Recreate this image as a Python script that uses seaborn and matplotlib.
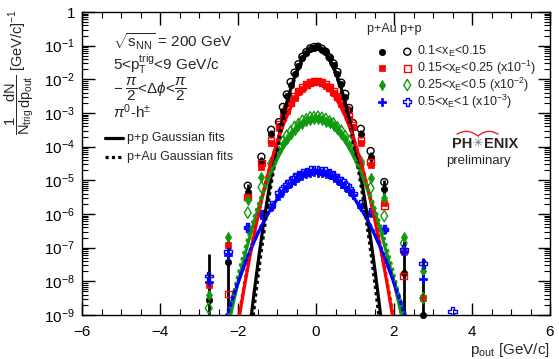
import numpy as np
import pandas as pd
import matplotlib
matplotlib.use("Agg")
import matplotlib.pyplot as plt
import seaborn as sns
from matplotlib.ticker import FixedLocator, MultipleLocator, NullFormatter, LogLocator

sns.set_theme(style="ticks")
plt.rcParams['font.family'] = ['Liberation Sans', 'DejaVu Sans']
plt.rcParams['mathtext.fontset'] = 'custom'
plt.rcParams['mathtext.rm'] = 'Liberation Sans'
plt.rcParams['mathtext.it'] = 'Liberation Sans:italic'
plt.rcParams['mathtext.bf'] = 'Liberation Sans:bold'

# ---------------- data (log10 of 1/Ntrig dN/dpout, as displayed incl. scale) -------------
x_fine = [-0.95, -0.85, -0.75, -0.65, -0.55, -0.45, -0.35, -0.25, -0.15, -0.05,
          0.05, 0.15, 0.25, 0.35, 0.45, 0.55, 0.65, 0.75, 0.85, 0.95]
x_coarse = [-2.75, -2.25, -1.75, -1.4, -1.15, 1.15, 1.4, 1.75, 2.25, 2.75]
x_extra = [3.5]

black_pp_fine = [-3.27, -2.82, -2.45, -2.08, -1.80, -1.55, -1.33, -1.19, -1.08, -1.04,
                 -1.03, -1.09, -1.18, -1.35, -1.53, -1.78, -2.10, -2.43, -2.85, -3.30]
black_pa_fine = [-3.38, -2.95, -2.50, -2.16, -1.83, -1.59, -1.36, -1.22, -1.11, -1.06,
                 -1.05, -1.12, -1.20, -1.38, -1.57, -1.85, -2.14, -2.52, -2.92, -3.42]
red_pp_fine = [-3.35, -3.12, -2.87, -2.68, -2.49, -2.35, -2.23, -2.16, -2.09, -2.06,
               -2.05, -2.10, -2.14, -2.25, -2.36, -2.51, -2.66, -2.89, -3.10, -3.38]
red_pa_fine = [-3.45, -3.16, -2.94, -2.71, -2.55, -2.38, -2.28, -2.17, -2.12, -2.09,
               -2.09, -2.11, -2.19, -2.26, -2.40, -2.53, -2.73, -2.92, -3.18, -3.43]
green_pp_fine = [-4.00, -3.85, -3.67, -3.55, -3.41, -3.33, -3.23, -3.19, -3.13, -3.12,
                 -3.11, -3.14, -3.18, -3.25, -3.31, -3.43, -3.53, -3.69, -3.83, -4.03]
green_pa_fine = [-4.14, -3.93, -3.78, -3.61, -3.50, -3.38, -3.32, -3.24, -3.21, -3.18,
                 -3.18, -3.20, -3.26, -3.30, -3.40, -3.49, -3.63, -3.76, -3.95, -4.12]
blue_pp_fine = [-5.37, -5.25, -5.11, -5.03, -4.92, -4.86, -4.78, -4.76, -4.71, -4.70,
                -4.69, -4.73, -4.74, -4.80, -4.84, -4.94, -5.01, -5.13, -5.23, -5.39]
blue_pa_fine = [-5.47, -5.31, -5.21, -5.08, -5.01, -4.91, -4.87, -4.80, -4.79, -4.76,
                -4.77, -4.77, -4.82, -4.85, -4.93, -4.99, -5.10, -5.19, -5.33, -5.45]

nan = np.nan
black_pp_coarse = [nan, nan, -5.16, -4.30, -3.50, -3.47, -4.13, -5.05, nan, nan]
black_pa_coarse = [-8.55, -7.42, -5.34, -4.45, -3.62, -3.62, -4.30, -5.25, -7.74, -9.00]
red_pp_coarse = [nan, -8.38, -5.50, -4.48, -3.80, -3.80, -4.45, -5.76, -7.84, nan]
red_pa_coarse = [-8.10, -6.92, -5.50, -4.60, -3.90, -3.90, -4.55, -5.67, -7.12, -8.50]
green_pp_coarse = [-8.80, nan, -5.96, -5.20, -4.50, -4.45, -5.23, -6.06, -6.87, -8.50]
green_pa_coarse = [-8.40, -6.67, -5.58, -4.90, -4.55, -4.50, -4.93, -5.52, -6.67, -7.70]
blue_pp_coarse = [-7.84, -7.12, -6.40, -6.00, -5.75, -5.72, -5.95, -6.45, -7.05, -7.48]
blue_pa_coarse = [-8.01, -7.22, -6.42, -6.03, -5.78, -5.78, -5.98, -6.47, -7.12, -7.93]
blue_pp_extra = [-8.90]

# error bars on black p+Au coarse points (log10 of upper / lower ends)
black_pa_err_hi = [-7.19, -6.70, -5.10, -4.30, -3.50, -3.50, -4.15, -5.00, -6.80, -7.30]
black_pa_err_lo = [-10.0, -10.0, -5.60, -4.60, -3.75, -3.75, -4.45, -5.50, -10.0, -10.0]

# Gaussian fit parameters (log10 amplitude, sigma)
fit_pp_amp = [-1.06, -2.08, -3.16, -4.74]
fit_pp_sigma = [0.274, 0.347, 0.422, 0.512]
fit_pa_amp = [-1.06, -2.10, -3.20, -4.76]
fit_pa_sigma = [0.266, 0.350, 0.434, 0.518]

colors = ["black", "#ff0000", "#109a10", "#0000ff"]
filled_markers = ["o", "s", "d", "P"]
legend_labels = [r"0.1<$\mathrm{x_E}$<0.15",
                 r"0.15<$\mathrm{x_E}$<0.25 (x10$^{-1}$)",
                 r"0.25<$\mathrm{x_E}$<0.5 (x10$^{-2}$)",
                 r"0.5<$\mathrm{x_E}$<1 (x10$^{-3}$)"]
y_tick_exp = [0, -1, -2, -3, -4, -5, -6, -7, -8, -9]
y_tick_labels = ["1"] + [r"$10^{%d}$" % e for e in y_tick_exp[1:]]

pp_series = [(black_pp_fine, black_pp_coarse), (red_pp_fine, red_pp_coarse),
             (green_pp_fine, green_pp_coarse), (blue_pp_fine, blue_pp_coarse)]
pa_series = [(black_pa_fine, black_pa_coarse), (red_pa_fine, red_pa_coarse),
             (green_pa_fine, green_pa_coarse), (blue_pa_fine, blue_pa_coarse)]

# ---------------- figure -------------
W, H = 559, 359
fig = plt.figure(figsize=(W / 100, H / 100), dpi=100)
fig.patch.set_facecolor("white")
ax = fig.add_axes([82 / W, 44 / H, 468 / W, 303 / H])
ax.set_facecolor("white")
ax.set_yscale("log")

sizes = {"o": 21, "s": 19, "d": 28, "P": 30}
open_scale = 1.2

for i in range(4):
    c = colors[i]
    m = filled_markers[i]
    # p+p open
    fine, coarse = pp_series[i]
    xs = list(x_fine) + list(x_coarse)
    ys = list(fine) + list(coarse)
    if i == 3:
        xs += list(x_extra)
        ys += list(blue_pp_extra)
    d = pd.DataFrame({"x": xs, "y": 10 ** np.array(ys, dtype=float)}).dropna()
    sns.scatterplot(data=d, x="x", y="y", ax=ax, marker=m, s=sizes[m] * open_scale,
                    facecolor="none", edgecolor=c, linewidth=1.0, zorder=3, legend=False)
    # p+Au filled
    fine, coarse = pa_series[i]
    d = pd.DataFrame({"x": list(x_fine) + list(x_coarse),
                      "y": 10 ** np.array(list(fine) + list(coarse), dtype=float)}).dropna()
    sns.scatterplot(data=d, x="x", y="y", ax=ax, marker=m, s=sizes[m],
                    color=c, edgecolor=c, linewidth=0.5, zorder=3, legend=False,
                    clip_on=False)

# error bars of black p+Au tail points
ax.vlines(x_coarse, 10 ** np.array(black_pa_err_lo), 10 ** np.array(black_pa_err_hi),
          color="black", linewidth=2.0, zorder=2.5)

# Gaussian fits
xg = np.linspace(-3.2, 3.2, 801)
for i in range(4):
    ypp = 10 ** fit_pp_amp[i] * np.exp(-xg ** 2 / (2 * fit_pp_sigma[i] ** 2))
    ypa = 10 ** fit_pa_amp[i] * np.exp(-xg ** 2 / (2 * fit_pa_sigma[i] ** 2))
    sns.lineplot(x=xg, y=ypp, ax=ax, color=colors[i], linewidth=2.3, zorder=4,
                 estimator=None, sort=False)
    sns.lineplot(x=xg, y=ypa, ax=ax, color=colors[i], linewidth=2.3, zorder=4.5,
                 estimator=None, sort=False, linestyle=(0, (1, 1)))

ax.set_xlim(-6, 6)
ax.set_ylim(1e-9, 1)
ax.set_xlabel("")
ax.set_ylabel("")

ax.xaxis.set_minor_locator(MultipleLocator(0.5))
ax.set_xticks([-6, -4, -2, 0, 2, 4, 6])
ax.set_xticklabels(["\u22126", "\u22124", "\u22122", "0", "2", "4", "6"])
ax.yaxis.set_major_locator(FixedLocator([10.0 ** e for e in y_tick_exp]))
ax.set_yticklabels(y_tick_labels)
ax.yaxis.set_minor_locator(LogLocator(base=10, subs=np.arange(2, 10), numticks=30))
ax.yaxis.set_minor_formatter(NullFormatter())
ax.tick_params(which="both", direction="in", top=True, right=True, colors="black",
               labelsize=11)
ax.tick_params(which="major", length=9, width=1.0)
ax.tick_params(which="minor", length=4.5, width=0.8)
ax.tick_params(axis="x", which="major", pad=7)
ax.tick_params(axis="y", which="major", pad=5)
for s in ax.spines.values():
    s.set_color("black")
    s.set_linewidth(1.0)

# ---- axis titles
fig.text(19 / W, 1 - 9 / H, r"$\dfrac{1}{\mathrm{N_{trig}}}\dfrac{\mathrm{dN}}{\mathrm{dp_{out}}}$ [GeV/c]$^{-1}$",
         rotation=90, ha="center", va="top", fontsize=10.5)
fig.text(550 / W, 1 - 350 / H, r"$\mathrm{p_{out}}$ [GeV/c]", ha="right", va="center",
         fontsize=11)

# ---- upper-left text block
tx = 0.066
ax.text(tx, 0.902, r"$\sqrt{\mathrm{s_{NN}}}$ = 200 GeV", transform=ax.transAxes,
        fontsize=11, va="center")
ax.text(tx, 0.828, r"5<$\mathrm{p_T^{trig}}$<9 GeV/c", transform=ax.transAxes,
        fontsize=11, va="center")
ax.text(tx, 0.745, r"$-\;\dfrac{\pi}{2}$<$\Delta\phi$<$\dfrac{\pi}{2}$",
        transform=ax.transAxes, fontsize=11, va="center")
ax.text(tx, 0.671, r"$\pi^{0}$-h$^{\pm}$", transform=ax.transAxes, fontsize=11,
        va="center")
ax.plot([0.049, 0.088], [0.583, 0.583], transform=ax.transAxes, color="black", lw=2.3)
ax.text(0.096, 0.583, "p+p Gaussian fits", transform=ax.transAxes, fontsize=9,
        va="center")
ax.plot([0.049, 0.088], [0.522, 0.522], transform=ax.transAxes, color="black", lw=2.3,
        linestyle=(0, (1, 1)))
ax.text(0.096, 0.522, "p+Au Gaussian fits", transform=ax.transAxes, fontsize=9,
        va="center")

# ---- marker legend (upper right)
ax.text(0.609, 0.943, "p+Au p+p", transform=ax.transAxes, fontsize=9, va="center")
rows_y = [0.869, 0.814, 0.759, 0.704]
for i in range(4):
    m = filled_markers[i]
    ax.scatter([0.640], [rows_y[i]], transform=ax.transAxes, marker=m, s=sizes[m],
               color=colors[i], edgecolor=colors[i], linewidth=0.5, clip_on=False)
    ax.scatter([0.695], [rows_y[i]], transform=ax.transAxes, marker=m,
               s=sizes[m] * open_scale, facecolor="none", edgecolor=colors[i],
               linewidth=1.0, clip_on=False)
    ax.text(0.715, rows_y[i], legend_labels[i], transform=ax.transAxes, fontsize=9,
            va="center")

# ---- PHENIX preliminary logo
lx = (478 - 82) / 468
ax.text(lx - 0.012, 0.565, "PH", transform=ax.transAxes, fontsize=10.5,
        fontweight="bold", ha="right", va="center")
ax.text(lx, 0.565, "\u2733", transform=ax.transAxes, fontsize=9, color="#777777",
        ha="center", va="center", family="DejaVu Sans")
ax.text(lx + 0.012, 0.565, "ENIX", transform=ax.transAxes, fontsize=10.5,
        fontweight="bold", ha="left", va="center")
ax.text(lx, 0.508, "preliminary", transform=ax.transAxes, fontsize=9.5,
        ha="center", va="center")
t = np.linspace(0, 1, 30)
ax.plot(lx - 0.045 + 0.045 * t, 0.597 + 0.012 * np.sin(np.pi * t) - 0.006 * t,
        transform=ax.transAxes, color="#ee2222", lw=1.0)
ax.plot(lx + 0.043 * t, 0.591 + 0.012 * np.sin(np.pi * t) + 0.006 * t,
        transform=ax.transAxes, color="#ee2222", lw=1.0)

fig.savefig("out.png", dpi=100)
